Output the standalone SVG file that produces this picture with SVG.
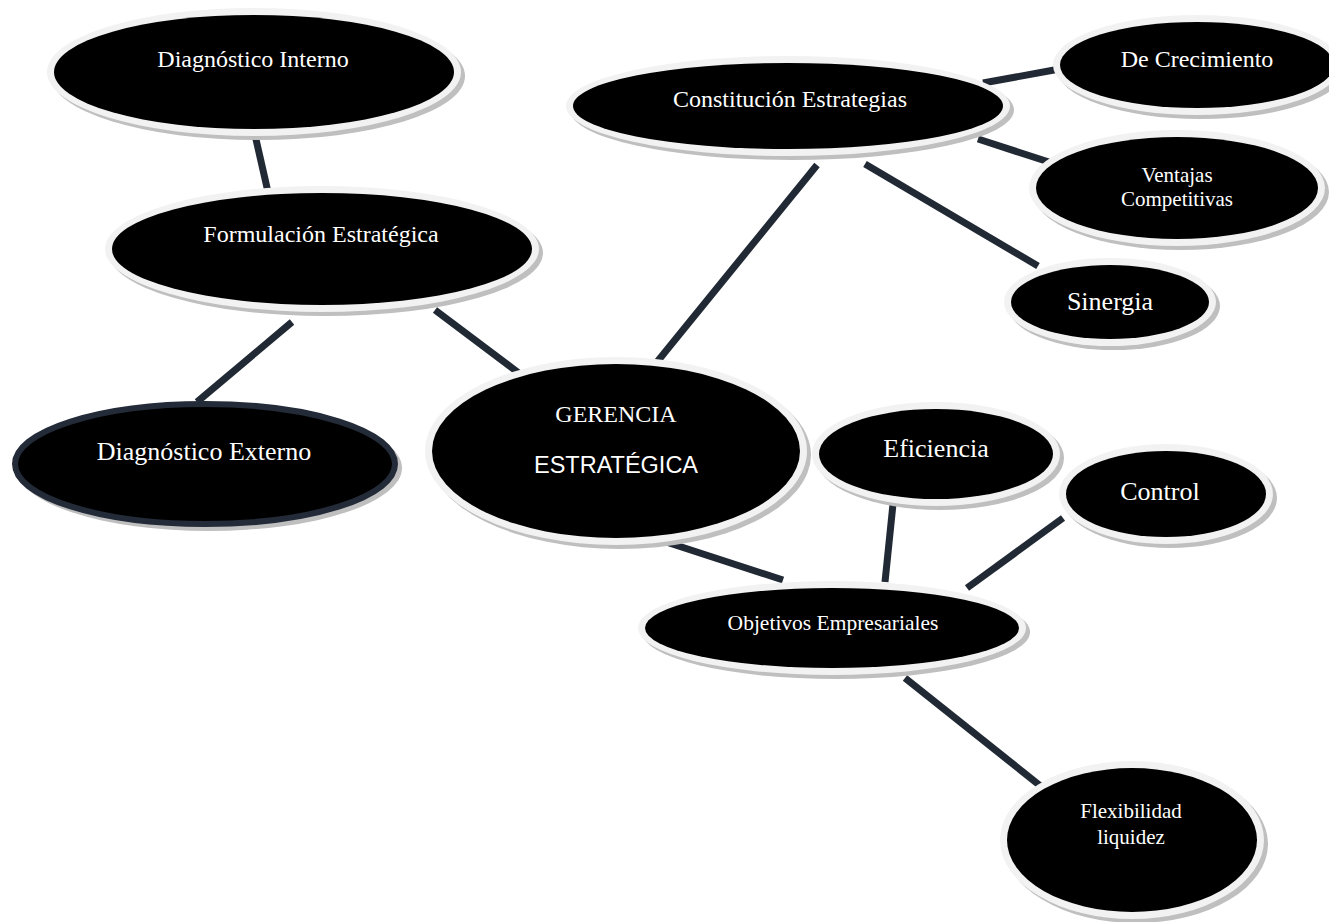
<svg xmlns="http://www.w3.org/2000/svg" width="1329" height="922" viewBox="0 0 1329 922">
<style>
.sh{fill:#bfbfbf}
.ring{fill:#f2f2f2}
.body{fill:#000}
.t{font-family:"Liberation Serif","Times New Roman",serif;fill:#fff;text-anchor:middle}
.a{font-family:"Liberation Sans",Arial,sans-serif;fill:#fff;text-anchor:middle}
.c line{stroke:#212935;stroke-width:7;stroke-linecap:butt}
</style>
<rect width="1329" height="922" fill="#fff"/>
<g class="c" id="connectors">
<line x1="255" y1="135" x2="268" y2="192"/>
<line x1="292" y1="322" x2="197" y2="402"/>
<line x1="435" y1="310" x2="524" y2="377"/>
<line x1="817" y1="165" x2="657" y2="362"/>
<line x1="983" y1="83" x2="1065" y2="68"/>
<line x1="978" y1="139" x2="1052" y2="163"/>
<line x1="865" y1="164" x2="1038" y2="266"/>
<line x1="657" y1="539" x2="783" y2="580"/>
<line x1="893" y1="504" x2="885" y2="582"/>
<line x1="1063" y1="518" x2="967" y2="588"/>
<line x1="905" y1="678" x2="1043" y2="788"/>
</g>
<g id="diag-interno">
<ellipse class="sh" cx="258" cy="76" rx="207" ry="64"/>
<ellipse class="ring" cx="254" cy="72" rx="207" ry="64"/>
<ellipse class="body" cx="254" cy="72" rx="200" ry="57"/>
<text class="t" x="253" y="67" font-size="24">Diagnóstico Interno</text>
</g>
<g id="formulacion">
<ellipse class="sh" cx="326" cy="253" rx="217" ry="63"/>
<ellipse class="ring" cx="322" cy="249" rx="217" ry="63"/>
<ellipse class="body" cx="322" cy="249" rx="210" ry="56"/>
<text class="t" x="321" y="242" font-size="24">Formulación Estratégica</text>
</g>
<g id="diag-externo">
<ellipse class="sh" cx="209" cy="468" rx="193" ry="63"/>
<ellipse cx="205" cy="464" rx="190" ry="60" fill="#000" stroke="#232b38" stroke-width="6"/>
<text class="t" x="204" y="460" font-size="26">Diagnóstico Externo</text>
</g>
<g id="gerencia">
<ellipse class="sh" cx="620" cy="455" rx="191" ry="94"/>
<ellipse class="ring" cx="616" cy="451" rx="191" ry="94"/>
<ellipse class="body" cx="616" cy="451" rx="184" ry="87"/>
<text class="t" x="616" y="422" font-size="24">GERENCIA</text>
<text class="a" x="616" y="473" font-size="23.5">ESTRATÉGICA</text>
</g>
<g id="constitucion">
<ellipse class="sh" cx="792" cy="110" rx="222" ry="50"/>
<ellipse class="ring" cx="788" cy="106" rx="222" ry="50"/>
<ellipse class="body" cx="788" cy="106" rx="215" ry="43"/>
<text class="t" x="790" y="107" font-size="24">Constitución Estrategias</text>
</g>
<g id="crecimiento">
<ellipse class="sh" cx="1201" cy="69" rx="144" ry="50"/>
<ellipse class="ring" cx="1197" cy="65" rx="144" ry="50"/>
<ellipse class="body" cx="1197" cy="65" rx="137" ry="43"/>
<text class="t" x="1197" y="67" font-size="24">De Crecimiento</text>
</g>
<g id="ventajas">
<ellipse class="sh" cx="1181" cy="192" rx="148" ry="58"/>
<ellipse class="ring" cx="1177" cy="188" rx="148" ry="58"/>
<ellipse class="body" cx="1177" cy="188" rx="141" ry="51"/>
<text class="t" x="1177" y="182" font-size="21">Ventajas</text>
<text class="t" x="1177" y="206" font-size="21">Competitivas</text>
</g>
<g id="sinergia">
<ellipse class="sh" cx="1114" cy="306" rx="106" ry="44"/>
<ellipse class="ring" cx="1110" cy="302" rx="106" ry="44"/>
<ellipse class="body" cx="1110" cy="302" rx="99" ry="37"/>
<text class="t" x="1110" y="310" font-size="26">Sinergia</text>
</g>
<g id="eficiencia">
<ellipse class="sh" cx="940" cy="458" rx="124" ry="52"/>
<ellipse class="ring" cx="936" cy="454" rx="124" ry="52"/>
<ellipse class="body" cx="936" cy="454" rx="117" ry="45"/>
<text class="t" x="936" y="457" font-size="26">Eficiencia</text>
</g>
<g id="control">
<ellipse class="sh" cx="1170" cy="498" rx="107" ry="50"/>
<ellipse class="ring" cx="1166" cy="494" rx="107" ry="50"/>
<ellipse class="body" cx="1166" cy="494" rx="100" ry="43"/>
<text class="t" x="1160" y="500" font-size="26">Control</text>
</g>
<g id="objetivos">
<ellipse class="sh" cx="836" cy="632" rx="194" ry="47"/>
<ellipse class="ring" cx="832" cy="628" rx="194" ry="47"/>
<ellipse class="body" cx="832" cy="628" rx="187" ry="40"/>
<text class="t" x="833" y="630" font-size="21.5">Objetivos Empresariales</text>
</g>
<g id="flexibilidad">
<ellipse class="sh" cx="1136" cy="844" rx="132" ry="79"/>
<ellipse class="ring" cx="1132" cy="840" rx="132" ry="79"/>
<ellipse class="body" cx="1132" cy="840" rx="125" ry="72"/>
<text class="t" x="1131" y="818" font-size="21">Flexibilidad</text>
<text class="t" x="1131" y="844" font-size="21">liquidez</text>
</g>
</svg>
